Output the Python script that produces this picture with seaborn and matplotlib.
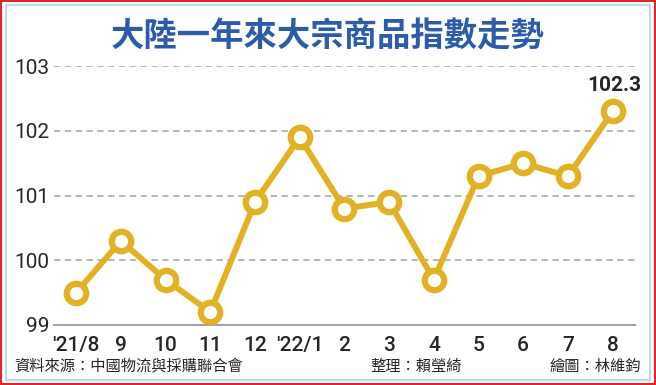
import matplotlib.pyplot as plt
import seaborn as sns
import pandas as pd
from matplotlib.patches import Rectangle

# chart data
months = ["'21/8", "9", "10", "11", "12", "'22/1", "2", "3", "4", "5", "6", "7", "8"]
index_values = [99.5, 100.3, 99.7, 99.2, 100.9, 101.9, 100.8, 100.9, 99.7, 101.3, 101.5, 101.3, 102.3]
y_ticks = [99, 100, 101, 102, 103]

title = "大陸一年來大宗商品指數走勢"
source = "資料來源：中國物流與採購聯合會"
editor = "整理：賴瑩綺"
artist = "繪圖：林維鈞"

gold = '#E1B224'

sns.set_style("white")
plt.rcParams['font.family'] = ['Noto Sans CJK TC', 'DejaVu Sans']

data = pd.DataFrame({'pos': range(len(months)), 'value': index_values})

fig = plt.figure(figsize=(6.56, 3.85), dpi=100)
ax = fig.add_axes([0.082, 0.156, 0.886, 0.672])

# dashed gridlines
for v in y_ticks[1:]:
    ax.axhline(v, color='#b0b0b0', linestyle=(0, (3.5, 2.5)), linewidth=1.3, zorder=0)

sns.lineplot(data=data, x='pos', y='value', ax=ax, color=gold, linewidth=4.3,
             marker='o', markersize=14, markerfacecolor='white',
             markeredgecolor=gold, markeredgewidth=4.5, zorder=3)

ax.set_xlim(-0.5, len(months) - 0.5)
ax.set_ylim(99, 103)
ax.set_yticks(y_ticks)
ax.set_yticklabels([str(v) for v in y_ticks], fontsize=15, family='Roboto')
ax.set_xticks(range(len(months)))
ax.set_xticklabels(months, fontsize=15, fontweight='medium', family='Roboto')
ax.set_xticks([i - 0.5 for i in range(len(months) + 1)], minor=True)
ax.tick_params(axis='x', which='major', length=0, pad=8)
ax.tick_params(axis='x', which='minor', length=5, width=1.3, color='#999999')
ax.tick_params(axis='y', length=0, pad=3)
ax.set_xlabel('')
ax.set_ylabel('')
sns.despine(ax=ax, left=True)
ax.spines['bottom'].set_color('#999999')
ax.spines['bottom'].set_linewidth(1.3)

ax.annotate(f"{index_values[-1]}", (len(months) - 1, index_values[-1]),
            xytext=(1, 12), textcoords='offset points', ha='center', va='bottom',
            fontsize=15, fontweight='bold', family='Roboto')

fig.text(0.5, 0.904, title, ha='center', va='center', fontsize=24,
         fontweight='bold', color='#2C5BA9')
fig.text(0.022, 0.049, source, ha='left', va='center', fontsize=11)
fig.text(0.564, 0.049, editor, ha='left', va='center', fontsize=11)
fig.text(0.977, 0.049, artist, ha='right', va='center', fontsize=11)

# frame
fig.patches.append(Rectangle((0.002, 0.003), 0.996, 0.994, transform=fig.transFigure,
                             fill=False, edgecolor='#E8232A', linewidth=1.5))
fig.patches.append(Rectangle((0.009, 0.013), 0.982, 0.975, transform=fig.transFigure,
                             fill=False, edgecolor='#A8D4EE', linewidth=1.2))

fig.savefig('out.png', dpi=100)
